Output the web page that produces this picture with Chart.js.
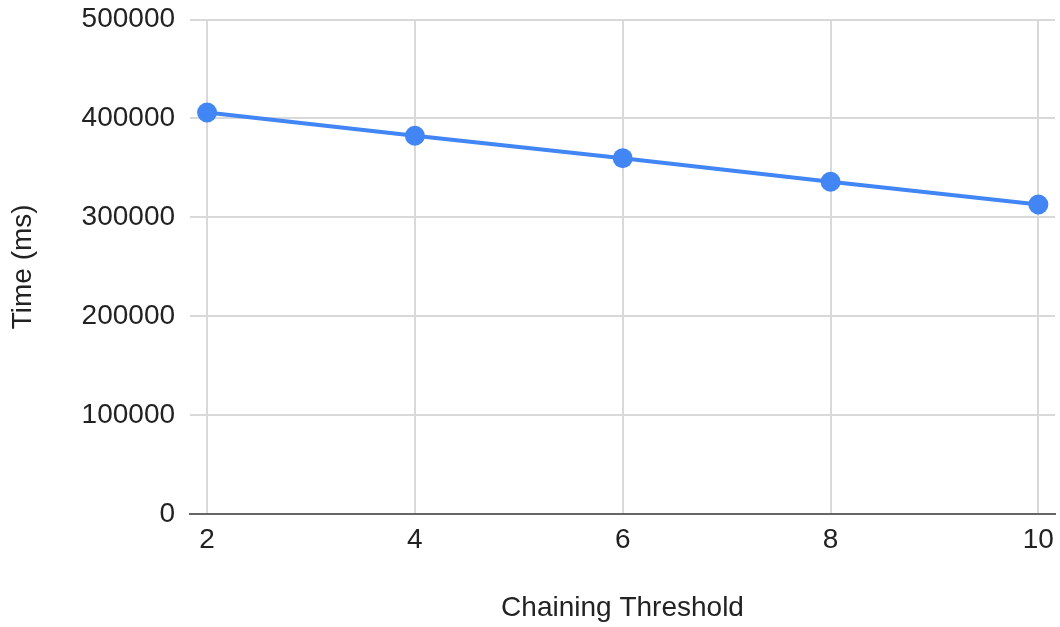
<!DOCTYPE html>
<html lang="en">
<head>
<meta charset="UTF-8">
<title>Chaining Threshold vs Time</title>
<script src="https://cdn.jsdelivr.net/npm/chart.js"></script>
<style>
    body { margin: 0; background: #fff; }
    .chart-container { position: relative; width: 1060px; height: 627px; }
</style>
</head>
<body>
<div class="chart-container"><canvas id="timeChart"></canvas></div>
<script>
// values
const thresholds = [2, 4, 6, 8, 10];
const timesMs = [406000, 382500, 359700, 336000, 313000];
const xTicks = [2, 4, 6, 8, 10];
const yTicks = [0, 100000, 200000, 300000, 400000, 500000];

const fontFamily = "'Liberation Sans', Arial, sans-serif";
const textColor = '#222';
const gridColor = '#d9d9d9';

const ctx = document.getElementById('timeChart').getContext('2d');
new Chart(ctx, {
    type: 'line',
    data: {
        datasets: [{
            data: thresholds.map((t, i) => ({ x: t, y: timesMs[i] })),
            borderColor: '#4285f4',
            backgroundColor: '#4285f4',
            borderWidth: 4,
            pointRadius: 10,
            pointHoverRadius: 10,
            pointBorderWidth: 0,
            tension: 0,
            clip: false
        }]
    },
    options: {
        responsive: true,
        maintainAspectRatio: false,
        animation: false,
        layout: { autoPadding: false, padding: { top: 19.5, right: 5, left: 0, bottom: 0 } },
        plugins: { legend: { display: false }, tooltip: { enabled: false } },
        scales: {
            x: {
                type: 'linear',
                min: 1.836,
                max: 10.16,
                afterBuildTicks: scale => { scale.ticks = xTicks.map(v => ({ value: v })); },
                // labels fit inside the plot edges, don't let them push the area in
                afterFit: scale => { scale.paddingLeft = 0; scale.paddingRight = 0; },
                grid: { color: gridColor, lineWidth: 2, drawTicks: false },
                border: { display: true, color: '#666', width: 2 },
                ticks: {
                    padding: 9,
                    color: textColor,
                    font: { family: fontFamily, size: 28 },
                    maxRotation: 0,
                    autoSkip: false
                },
                title: {
                    display: true,
                    text: 'Chaining Threshold',
                    color: textColor,
                    font: { family: fontFamily, size: 28 },
                    padding: { top: 26, bottom: 1.7 }
                }
            },
            y: {
                min: 0,
                max: 500000,
                afterBuildTicks: scale => { scale.ticks = yTicks.map(v => ({ value: v })); },
                afterFit: scale => { scale.paddingTop = 0; scale.paddingBottom = 0; },
                grid: { color: gridColor, lineWidth: 2, drawTicks: false },
                border: { display: false },
                ticks: {
                    padding: 15,
                    color: textColor,
                    font: { family: fontFamily, size: 28 },
                    callback: v => String(v)
                },
                title: {
                    display: true,
                    text: 'Time (ms)',
                    color: textColor,
                    font: { family: fontFamily, size: 28 },
                    padding: { top: 6, bottom: 27 }
                }
            }
        }
    }
});
</script>
</body>
</html>
